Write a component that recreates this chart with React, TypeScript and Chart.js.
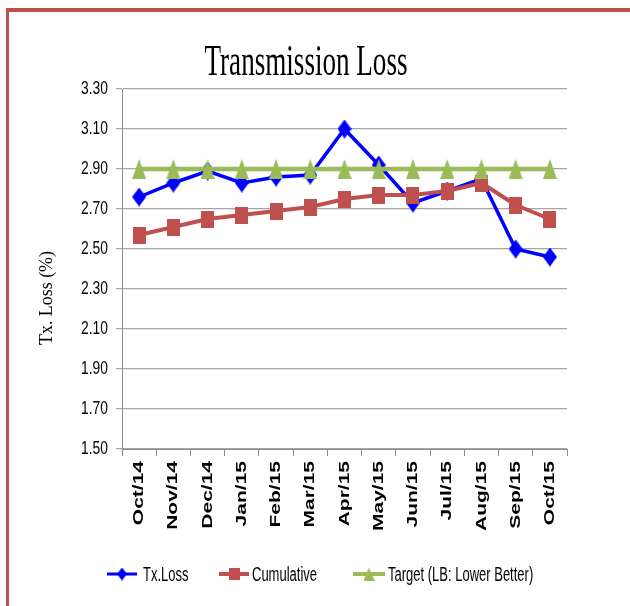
import React, { useEffect, useRef } from "react";
import { Chart, registerables } from "chart.js";

Chart.register(...registerables);

// ---- data ----
const categories = ["Oct/14", "Nov/14", "Dec/14", "Jan/15", "Feb/15", "Mar/15", "Apr/15", "May/15", "Jun/15", "Jul/15", "Aug/15", "Sep/15", "Oct/15"];
const txLoss = [2.76, 2.83, 2.89, 2.83, 2.86, 2.87, 3.1, 2.92, 2.73, 2.79, 2.85, 2.5, 2.46];
const cumulative = [2.57, 2.61, 2.65, 2.67, 2.69, 2.71, 2.75, 2.77, 2.77, 2.79, 2.83, 2.72, 2.65];
const target = [2.9, 2.9, 2.9, 2.9, 2.9, 2.9, 2.9, 2.9, 2.9, 2.9, 2.9, 2.9, 2.9];
const seriesNames = ["Tx.Loss", "Cumulative", "Target (LB: Lower Better)"];
const yMin = 1.5;
const yMax = 3.3;
const yStep = 0.2;
const titleText = "Transmission Loss";
const yTitleText = "Tx. Loss (%)";

const BLUE = "#0000FF";
const RED = "#C0504D";
const GREEN = "#9BBB59";

function makeSprite(kind: string, color: string, w: number, h: number) {
  const c = document.createElement("canvas");
  c.width = w;
  c.height = h;
  const g = c.getContext("2d")!;
  g.fillStyle = color;
  g.beginPath();
  if (kind === "diamond") {
    g.moveTo(w / 2, 0);
    g.lineTo(w, h / 2);
    g.lineTo(w / 2, h);
    g.lineTo(0, h / 2);
  } else if (kind === "square") {
    g.rect(0, 0, w, h);
  } else {
    g.moveTo(w / 2, 0);
    g.lineTo(w, h);
    g.lineTo(0, h);
  }
  g.closePath();
  g.fill();
  return c;
}

function patchLabels(scale: any, sx: number) {
  if (!scale || scale.__patched) return;
  scale.__patched = true;
  const orig = scale.drawLabels;
  scale.drawLabels = function (area: any) {
    const ctx = this.ctx;
    const of = CanvasRenderingContext2D.prototype.fillText;
    ctx.fillText = function (t: string, x: number, y: number) {
      this.save();
      this.scale(sx, 1);
      of.call(this, t, x / sx, y);
      this.restore();
    };
    try {
      orig.call(this, area);
    } finally {
      delete ctx.fillText;
    }
  };
}

export default function App() {
  const ref = useRef<HTMLCanvasElement>(null);

  useEffect(() => {
    if (!ref.current) return;
    const dia = makeSprite("diamond", BLUE, 14, 19);
    const sq = makeSprite("square", RED, 13, 17);
    const tri = makeSprite("triangle", GREEN, 14, 20);
    const diaL = makeSprite("diamond", BLUE, 10, 13);
    const sqL = makeSprite("square", RED, 11, 12);
    const triL = makeSprite("triangle", GREEN, 11, 13);

    const decor = {
      id: "decor",
      beforeDraw(chart: any) {
        patchLabels(chart.scales.x, 1.4);
        patchLabels(chart.scales.y, 0.77);
      },
      afterDraw(chart: any) {
        const ctx = chart.ctx as CanvasRenderingContext2D;
        ctx.save();
        // frame
        ctx.fillStyle = RED;
        ctx.fillRect(6, 8, 624, 4);
        ctx.fillRect(6, 8, 3, 598);
        // title
        ctx.fillStyle = "#000";
        ctx.font = '45px "Liberation Serif", "Times New Roman", serif';
        ctx.textAlign = "center";
        ctx.textBaseline = "alphabetic";
        const tw = ctx.measureText(titleText).width;
        ctx.save();
        ctx.translate(306, 75);
        ctx.scale(203 / tw, 1);
        ctx.fillText(titleText, 0, 0);
        ctx.restore();
        // y title
        ctx.font = '18px "Liberation Serif", "Times New Roman", serif';
        ctx.textBaseline = "middle";
        const yw = ctx.measureText(yTitleText).width;
        ctx.save();
        ctx.translate(47, 298);
        ctx.rotate(-Math.PI / 2);
        ctx.scale(94 / yw, 1);
        ctx.fillText(yTitleText, 0, 0);
        ctx.restore();
        // legend
        const ly = 574;
        const items = [
          { x0: 107, x1: 137, mx: 122, tx: 143, color: BLUE, lw: 3, sp: diaL, name: seriesNames[0] },
          { x0: 219, x1: 249, mx: 234, tx: 252, color: RED, lw: 4, sp: sqL, name: seriesNames[1] },
          { x0: 353, x1: 385, mx: 369, tx: 388, color: GREEN, lw: 4, sp: triL, name: seriesNames[2] },
        ];
        ctx.font = '20px "Liberation Sans", Arial, sans-serif';
        ctx.textAlign = "left";
        ctx.textBaseline = "middle";
        for (const it of items) {
          ctx.strokeStyle = it.color;
          ctx.lineWidth = it.lw;
          ctx.beginPath();
          ctx.moveTo(it.x0, ly);
          ctx.lineTo(it.x1, ly);
          ctx.stroke();
          ctx.drawImage(it.sp, it.mx - it.sp.width / 2, ly - it.sp.height / 2);
          ctx.save();
          ctx.translate(it.tx, ly + 1);
          ctx.scale(0.65, 1);
          ctx.fillStyle = "#000";
          ctx.fillText(it.name, 0, 0);
          ctx.restore();
        }
        ctx.restore();
      },
    };

    const chart = new Chart(ref.current, {
      type: "line",
      data: {
        labels: categories,
        datasets: [
          {
            label: seriesNames[0],
            data: txLoss,
            borderColor: BLUE,
            backgroundColor: BLUE,
            borderWidth: 3.5,
            pointStyle: dia as any,
            pointRadius: 8,
            tension: 0,
            order: 3,
          },
          {
            label: seriesNames[1],
            data: cumulative,
            borderColor: RED,
            backgroundColor: RED,
            borderWidth: 4,
            pointStyle: sq as any,
            pointRadius: 8,
            tension: 0,
            order: 2,
          },
          {
            label: seriesNames[2],
            data: target,
            borderColor: GREEN,
            backgroundColor: GREEN,
            borderWidth: 4.5,
            pointStyle: tri as any,
            pointRadius: 8,
            tension: 0,
            order: 1,
          },
        ],
      },
      options: {
        responsive: false,
        animation: false,
        layout: { padding: { top: 89, right: 63, left: 0, bottom: 0 } },
        plugins: {
          legend: { display: false },
          title: { display: false },
          tooltip: { enabled: false },
        },
        scales: {
          x: {
            offset: true,
            grid: {
              offset: true,
              drawOnChartArea: false,
              drawTicks: true,
              tickLength: 7,
              color: "#8C8C8C",
            },
            border: { color: "#8C8C8C" },
            ticks: {
              maxRotation: 90,
              minRotation: 90,
              autoSkip: false,
              padding: 5,
              color: "#000",
              font: { family: '"Liberation Sans", Arial, sans-serif', size: 15, weight: "bold" },
            },
            afterFit: (s: any) => {
              s.height = 157;
            },
          },
          y: {
            min: yMin,
            max: yMax,
            ticks: {
              stepSize: yStep,
              padding: 8,
              color: "#000",
              callback: (v: any) => Number(v).toFixed(2),
              font: { family: '"Liberation Sans", Arial, sans-serif', size: 18 },
            },
            grid: { color: "#A6A6A6", tickLength: 6, lineWidth: 1.3 },
            border: { color: "#8C8C8C" },
            afterFit: (s: any) => {
              s.width = 122;
            },
          },
        },
      },
      plugins: [decor],
    });
    return () => chart.destroy();
  }, []);

  return (
    <div style={{ position: "absolute", left: 0, top: 0, width: 630, height: 606, background: "#fff" }}>
      <canvas ref={ref} width={630} height={606} />
    </div>
  );
}
